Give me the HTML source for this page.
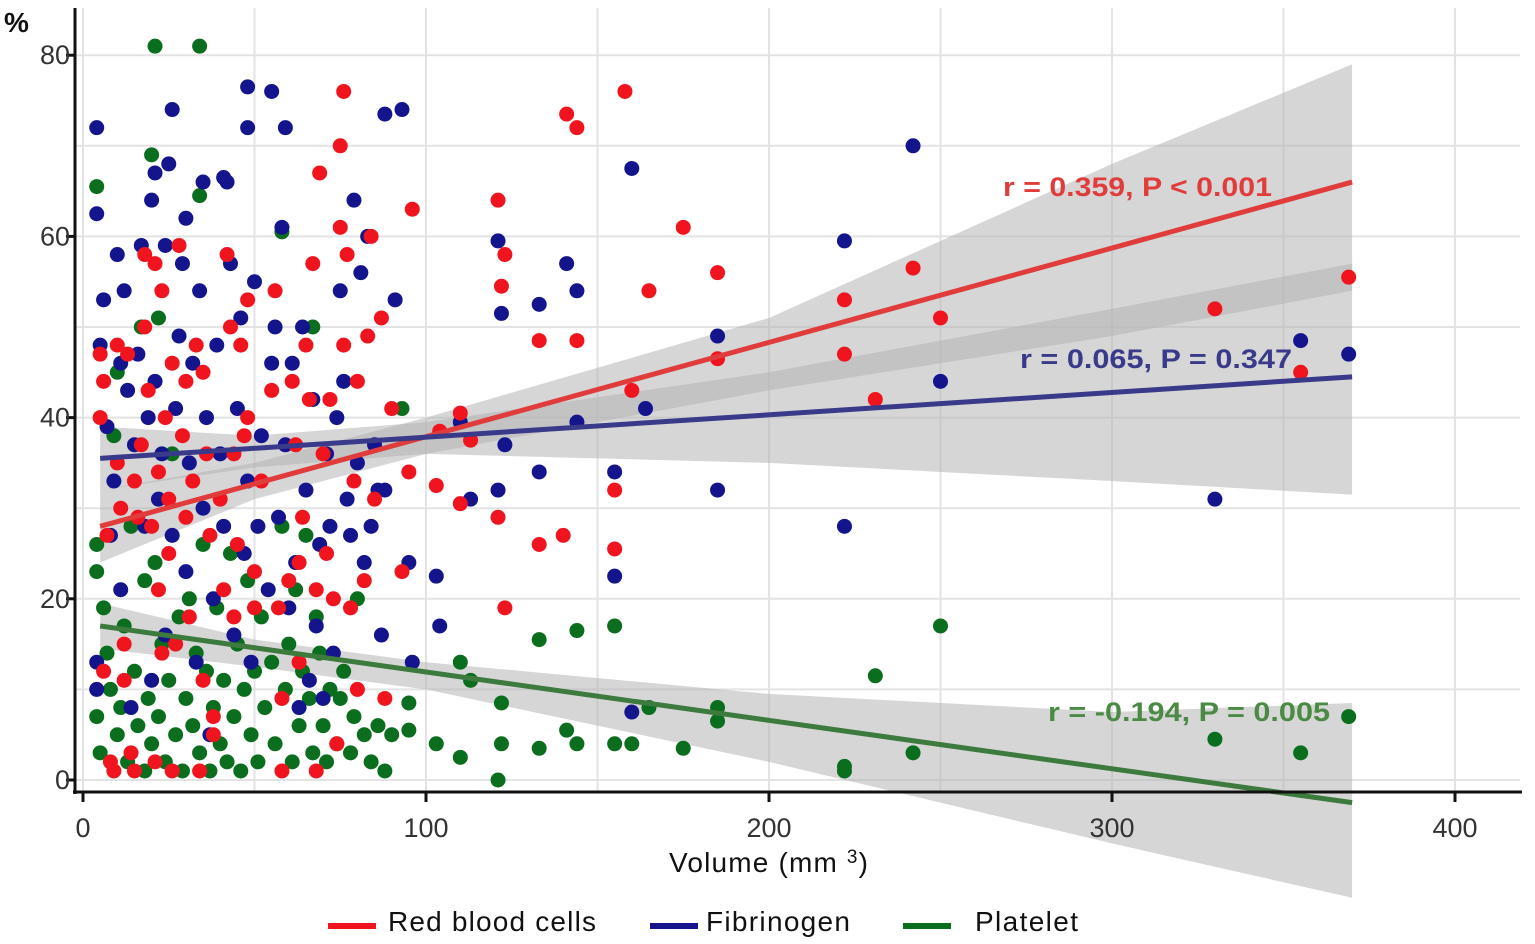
<!DOCTYPE html>
<html><head><meta charset="utf-8">
<style>
html,body{margin:0;padding:0;background:#fff;}
svg{display:block;font-family:"Liberation Sans",Arial,sans-serif;}
</style></head>
<body>
<svg id="chart" width="1535" height="944" viewBox="0 0 1535 944">
<g id="grid"></g>
<g id="bands"></g>
<g id="points"></g>
<g id="lines"></g>
<g id="axes"></g>
<text x="4" y="32" font-size="28" font-weight="bold" fill="#111">%</text>
<text x="669" y="872" font-size="28" fill="#111" textLength="199">Volume (mm <tspan dy="-9" font-size="19">3</tspan><tspan dy="9">)</tspan></text>
<text x="1003" y="196" font-size="27" font-weight="bold" textLength="269" lengthAdjust="spacingAndGlyphs" fill="#e03c3c">r = 0.359, P &lt; 0.001</text>
<text x="1020" y="368" font-size="27" font-weight="bold" textLength="272" lengthAdjust="spacingAndGlyphs" fill="#3a3a8a">r = 0.065, P = 0.347</text>
<text x="1048" y="721" font-size="27" font-weight="bold" textLength="282" lengthAdjust="spacingAndGlyphs" fill="#4a8a44">r = -0.194, P = 0.005</text>
<g>
<g><rect x="328" y="923" width="48" height="6" fill="#f0141e"/><text x="388" y="931" font-size="28" textLength="208" fill="#111">Red blood cells</text></g>
<g><rect x="650" y="923" width="48" height="6" fill="#14148c"/><text x="706" y="931" font-size="28" textLength="144" fill="#111">Fibrinogen</text></g>
<g><rect x="903" y="923" width="48" height="6" fill="#0a6e1e"/><text x="975" y="931" font-size="28" textLength="103" fill="#111">Platelet</text></g>
</g>
</svg>
<script>
const xTicks=[0,100,200,300,400];
const yTicks=[0,20,40,60,80];
const redPts=[[158,76],[141,73.5],[144,72],[160,43],[165,54],[175,61],[185,56],[185,46.5],[222,53],[222,47],[231,42],[242,56.5],[250,51],[330,52],[355,45],[369,55.5],[121,64],[122,54.5],[123,58],[123,19],[121,29],[110,30.5],[110,40.5],[113,37.5],[103,32.5],[133,48.5],[133,26],[140,27],[144,48.5],[155,32],[155,25.5],[104,38.5],[96,63],[95,34],[93,23],[88,9],[87,51],[90,41],
[5,40],[5,47],[6,44],[7,27],[6,12],[8,2],[9,1],[10,48],[10,35],[11,30],[12,15],[12,11],[13,47],[14,3],[15,1],[15,33],[16,29],[17,37],[18,50],[18,58],[19,43],[20,28],[21,2],[21,57],[22,21],[22,34],[23,14],[23,54],[24,40],[25,25],[25,31],[26,46],[26,1],[27,15],[28,59],[29,38],[30,44],[30,29],[31,18],[32,33],[33,48],[34,1],[35,45],[35,11],[36,36],[37,27],[38,7],[38,5],[40,31],[41,21],[42,58],[43,50],[44,36],[44,18],[45,26],[46,48],[47,38],[48,40],[48,53],[50,23],[50,19],[52,33],[55,43],[56,54],[57,19],[58,1],[58,9],[60,22],[61,44],[62,37],[63,24],[63,13],[64,29],[65,48],[66,42],[67,57],[68,21],[68,1],[69,67],[70,36],[71,25],[72,42],[73,20],[74,4],[75,70],[75,61],[76,76],[76,48],[77,58],[78,19],[79,33],[80,10],[80,44],[82,22],[83,49],[84,60],[85,31]];
const bluePts=[[160,67.5],[242,70],[222,59.5],[222,28],[250,44],[330,31],[355,48.5],[369,47],[185,49],[185,32],[164,41],[155,34],[155,22.5],[160,7.5],[141,57],[144,54],[144,39.5],[133,52.5],[133,34],[121,59.5],[122,51.5],[121,32],[123,37],[110,39.5],[113,31],[103,22.5],[104,17],[96,13],[95,24],[93,74],[88,73.5],[91,53],[48,76.5],[55,76],[48,72],[59,72],[4,72],[4,62.5],[26,74],[41,66.5],
[4,10],[4,13],[5,48],[6,53],[7,39],[8,27],[9,33],[10,58],[11,46],[11,21],[12,54],[13,43],[14,8],[15,37],[16,47],[17,59],[18,28],[19,40],[20,64],[20,11],[21,67],[21,44],[22,31],[23,36],[24,59],[24,16],[25,68],[26,27],[27,41],[28,49],[29,57],[30,62],[30,23],[31,35],[32,46],[33,13],[34,54],[35,66],[35,30],[36,40],[37,5],[38,20],[39,48],[40,36],[41,28],[42,66],[43,57],[44,16],[45,41],[46,51],[47,25],[48,33],[49,13],[50,55],[51,28],[52,38],[54,21],[55,46],[56,50],[57,29],[58,61],[59,37],[60,19],[61,46],[62,24],[63,8],[64,50],[65,32],[66,11],[67,42],[68,17],[69,26],[70,9],[71,36],[72,28],[73,14],[74,40],[75,54],[76,44],[77,31],[78,27],[79,64],[80,35],[81,56],[82,24],[83,60],[84,28],[85,37],[86,32],[87,16],[88,32]];
const greenPts=[[21,81],[34,81],[4,65.5],[20,69],[34,64.5],[58,60.5],[67,50],[93,41],[133,15.5],[144,16.5],[155,17],[231,11.5],[250,17],[110,13],[113,11],[122,8.5],[103,4],[110,2.5],[121,0],[122,4],[133,3.5],[141,5.5],[144,4],[155,4],[160,4],[165,8],[175,3.5],[185,8],[185,6.5],[222,1.5],[222,1],[242,3],[330,4.5],[355,3],[369,7],[95,8.5],[95,5.5],
[4,26],[4,23],[4,7],[5,3],[6,19],[7,14],[8,10],[9,38],[10,5],[10,45],[11,8],[12,17],[13,2],[14,28],[15,12],[16,6],[17,50],[18,1],[18,22],[19,9],[20,4],[21,24],[22,7],[22,51],[23,15],[24,2],[25,11],[26,36],[27,5],[28,18],[29,1],[30,9],[31,20],[32,6],[33,14],[34,3],[35,26],[36,12],[37,1],[38,8],[39,19],[40,4],[41,11],[42,2],[43,25],[44,7],[45,15],[46,1],[47,10],[48,22],[49,5],[50,12],[51,2],[52,18],[53,8],[55,13],[56,4],[58,28],[59,10],[60,15],[61,2],[62,21],[63,6],[64,12],[65,27],[66,9],[67,3],[68,18],[69,14],[70,6],[71,2],[72,10],[74,4],[75,9],[76,12],[78,3],[79,7],[80,20],[82,5],[84,2],[86,6],[88,1],[90,5]];
const fitX=[5,370];
const redFit=[28,66];
const blueFit=[35.5,44.5];
const greenFit=[17,-2.5];
const bandX=[5,50,100,200,300,370];
const redLo=[24,31,36,43,49,54];
const redHi=[32,35,40,51,68,79];
const blueLo=[32,34.5,36,35,33,31.5];
const blueHi=[39,38,39.5,45,52,57];
const greenLo=[14.5,12.5,10,2,-7,-13];
const greenHi=[19.5,15.5,13,9.5,7.5,8.5];

const NS="http://www.w3.org/2000/svg";
const X=v=>83+v*3.43;
const Y=v=>780-v*9.06;
function mk(tag,parent,attrs){const e=document.createElementNS(NS,tag);for(const k in attrs)e.setAttribute(k,attrs[k]);parent.appendChild(e);return e;}
const grid=document.getElementById('grid');
for(let v=0;v<=420;v+=50){const l=mk('line',grid,{x1:X(v),x2:X(v),y1:8,y2:792,stroke:'#e3e3e3','stroke-width':2});

}
for(let v=0;v<=85;v+=10){const l=mk('line',grid,{x1:75,x2:1520,y1:Y(v),y2:Y(v),stroke:'#e3e3e3','stroke-width':2});

}
const bands=document.getElementById('bands');
[[redLo,redHi,'red'],[blueLo,blueHi,'blue'],[greenLo,greenHi,'green']].forEach(([lo,hi,n])=>{
let d=bandX.map((x,i)=>(i?'L':'M')+X(x)+','+Y(hi[i])).join(' ');
for(let i=bandX.length-1;i>=0;i--)d+=' L'+X(bandX[i])+','+Y(lo[i]);
const p=mk('path',bands,{d:d+'Z',fill:'#b4b4b4','fill-opacity':0.55});

});
const pg=document.getElementById('points');
[[greenPts,'#0a6e1e','platelet'],[bluePts,'#14148c','fibrinogen'],[redPts,'#f0141e','red-blood-cell']].forEach(([pts,c,n])=>{
pts.forEach(p=>{const e=mk('circle',pg,{cx:X(p[0]),cy:Y(p[1]),r:7.5,fill:c});

});});
const lg=document.getElementById('lines');
[[redFit,'#e03c3c','red'],[blueFit,'#3a3a8a','blue'],[greenFit,'#3d7a3d','green']].forEach(([f,c,n])=>{
const e=mk('line',lg,{x1:X(fitX[0]),y1:Y(f[0]),x2:X(fitX[1]),y2:Y(f[1]),stroke:c,'stroke-width':5});

});
const ax=document.getElementById('axes');
const xa=mk('line',ax,{x1:73,x2:1522,y1:792,y2:792,stroke:'#111','stroke-width':3});


const ya=mk('line',ax,{x1:75,x2:75,y1:8,y2:794,stroke:'#111','stroke-width':3});


xTicks.forEach(v=>{mk('line',ax,{x1:X(v),x2:X(v),y1:792,y2:802,stroke:'#111','stroke-width':3});
const t=mk('text',ax,{x:X(v),y:837,'font-size':27,'text-anchor':'middle',fill:'#333'});t.textContent=v;

});
yTicks.forEach(v=>{mk('line',ax,{x1:66,x2:75,y1:Y(v),y2:Y(v),stroke:'#111','stroke-width':3});
const t=mk('text',ax,{x:70,y:Y(v)+9,'font-size':27,'text-anchor':'end',fill:'#333'});t.textContent=v;

});
</script>
</body></html>
